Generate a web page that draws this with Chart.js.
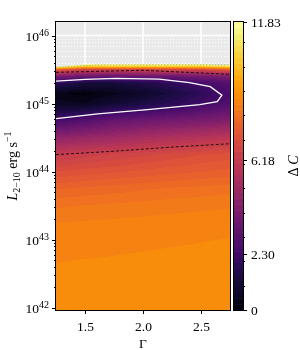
<!DOCTYPE html>
<html>
<head>
<meta charset="utf-8">
<script src="https://cdn.jsdelivr.net/npm/chart.js@4.4.0/dist/chart.umd.min.js"></script>
<style>
  html, body { margin: 0; padding: 0; background: #fff; }
  #wrap { width: 300px; height: 350px; }
</style>
</head>
<body>
<div id="wrap"><canvas id="chart"></canvas></div>
<script>
// grid of the Delta C map: columns in Gamma, rows in log10 L
const gammaGrid = [1.25, 1.5, 1.75, 2.0, 2.25, 2.5, 2.75];
const logLGrid = [41.9, 42.5, 43.0, 43.25, 43.5, 43.75, 44.0, 44.25, 44.5, 44.75, 45.0, 45.15, 45.3, 45.4, 45.5, 45.55, 45.6, 46.3];

const dcG125 = [8.88, 8.74, 8.58, 8.45, 8.17, 7.70, 7.00, 6.18, 4.6, 2.5, 0.6, 0.3, 1.9, 4.0, 7.5, 12.5, 13, null];
const dcG150 = [8.89, 8.76, 8.60, 8.48, 8.22, 7.78, 7.12, 6.40, 4.8, 2.9, 0.5, 0.15, 1.2, 3.5, 6.5, 10.5, 13, null];
const dcG175 = [8.90, 8.77, 8.62, 8.50, 8.26, 7.85, 7.20, 6.55, 5.0, 3.4, 1.0, 0.4, 1.2, 3.4, 6.6, 10.5, 13, null];
const dcG200 = [8.90, 8.79, 8.64, 8.53, 8.30, 7.93, 7.30, 6.70, 5.3, 3.6, 1.4, 0.8, 1.5, 3.5, 6.6, 10.5, 13, null];
const dcG225 = [8.91, 8.80, 8.66, 8.56, 8.35, 8.00, 7.40, 6.85, 5.5, 3.8, 1.8, 1.3, 1.9, 3.6, 6.7, 10.5, 13, null];
const dcG250 = [8.92, 8.81, 8.68, 8.58, 8.38, 8.05, 7.48, 7.00, 5.7, 4.0, 2.25, 1.9, 2.4, 3.8, 6.8, 10.5, 13, null];
const dcG275 = [8.93, 8.82, 8.70, 8.60, 8.42, 8.10, 7.55, 7.10, 5.9, 4.2, 2.8, 2.6, 2.9, 4.1, 7.5, 11.0, 13, null];
const deltaC = [dcG125, dcG150, dcG175, dcG200, dcG225, dcG250, dcG275];

// contour lines (Gamma, log10 L)
const c230Gamma = [1.25, 1.5, 1.77, 2.14, 2.4, 2.58, 2.68, 2.64, 2.49, 2.04, 1.61, 1.25];
const c230LogL  = [45.33, 45.355, 45.37, 45.36, 45.31, 45.25, 45.125, 45.03, 44.985, 44.91, 44.85, 44.78];
const c618LoGamma = [1.25, 1.75, 2.25, 2.75];
const c618LoLogL  = [44.25, 44.30, 44.36, 44.41];
const c618HiGamma = [1.25, 2.0, 2.75];
const c618HiLogL  = [45.46, 45.49, 45.43];
const c1183Gamma = [1.25, 1.6, 2.0, 2.75];
const c1183LogL  = [45.534, 45.57, 45.572, 45.572];

// axes
const xTicks = [1.5, 2.0, 2.5];
const xTickLabels = ['1.5', '2.0', '2.5'];
const yDecades = [42, 43, 44, 45, 46];
const cbTicks = [0, 2.30, 6.18, 11.83];
const cbTickLabels = ['0', '2.30', '6.18', '11.83'];
const cbMinor = [1, 2, 3, 4, 5, 6, 7, 8, 9, 10, 11];

const VMAX = 11.83;
const NLEV = 50;
const STEP = VMAX / (NLEV - 1);
const SERIF = '"Liberation Serif", "DejaVu Serif", serif';
const FS = 13.5;
const FS_SMALL = 10;

const INFERNO = ['#000004', '#0b0724', '#160b39', '#280b54', '#420a68', '#57106e', '#6a176e',
  '#7f1e6c', '#932667', '#a82e5f', '#bc3754', '#cc4248', '#dd513a', '#ea632a', '#f37819',
  '#f98e09', '#fca50a', '#fac127', '#f6d746', '#f2ee73', '#fcffa4'].map(h => [
    parseInt(h.slice(1, 3), 16), parseInt(h.slice(3, 5), 16), parseInt(h.slice(5, 7), 16)]);

function inferno(t) {
  t = Math.max(0, Math.min(1, t)) * (INFERNO.length - 1);
  const i = Math.min(Math.floor(t), INFERNO.length - 2), f = t - i;
  const a = INFERNO[i], b = INFERNO[i + 1];
  return [0, 1, 2].map(k => Math.round(a[k] + (b[k] - a[k]) * f));
}

function bandColor(v) {
  const k = Math.min(Math.floor(v / STEP), NLEV - 2);
  return inferno((k + 0.5) / (NLEV - 1));
}

function seg(arr, v) {
  let i = 0;
  while (i < arr.length - 2 && v > arr[i + 1]) i++;
  return i;
}

function lookup(g, lg) {
  const i = seg(gammaGrid, g), j = seg(logLGrid, lg);
  const a = deltaC[i][j], b = deltaC[i + 1][j], c = deltaC[i][j + 1], d = deltaC[i + 1][j + 1];
  if (a == null || b == null || c == null || d == null) return null;
  const fx = Math.max(0, Math.min(1, (g - gammaGrid[i]) / (gammaGrid[i + 1] - gammaGrid[i])));
  const fy = Math.max(0, Math.min(1, (lg - logLGrid[j]) / (logLGrid[j + 1] - logLGrid[j])));
  return (a * (1 - fx) + b * fx) * (1 - fy) + (c * (1 - fx) + d * fx) * fy;
}

function pts(gs, ls) {
  return gs.map((g, i) => ({ x: g, y: Math.pow(10, ls[i]) }));
}

// draws text pieces (size, italic, shift) one after another
function drawParts(ctx, parts, x, y, align) {
  let total = 0;
  parts.forEach(p => {
    ctx.font = (p.italic ? 'italic ' : '') + p.size + 'px ' + SERIF;
    p.w = ctx.measureText(p.t).width;
    total += p.w;
  });
  let cx = align === 'right' ? x - total : align === 'center' ? x - total / 2 : x;
  ctx.textAlign = 'left';
  ctx.textBaseline = 'alphabetic';
  parts.forEach(p => {
    ctx.font = (p.italic ? 'italic ' : '') + p.size + 'px ' + SERIF;
    ctx.fillText(p.t, cx, y + (p.dy || 0));
    cx += p.w;
  });
}

const mapPlugin = {
  id: 'deltaCMap',
  beforeDatasetsDraw(chart) {
    const { ctx, chartArea: a, scales: { x, y } } = chart;
    ctx.save();
    ctx.fillStyle = '#eaeaea';
    ctx.fillRect(a.left, a.top, a.right - a.left, a.bottom - a.top);

    // grid on the grey background
    ctx.strokeStyle = '#ffffff';
    ctx.lineWidth = 1.5;
    xTicks.forEach(v => {
      const px = x.getPixelForValue(v);
      ctx.beginPath(); ctx.moveTo(px, a.top); ctx.lineTo(px, a.bottom); ctx.stroke();
    });
    yDecades.forEach(d => {
      const py = y.getPixelForValue(Math.pow(10, d));
      ctx.beginPath(); ctx.moveTo(a.left, py); ctx.lineTo(a.right, py); ctx.stroke();
    });
    ctx.lineWidth = 1;
    ctx.setLineDash([1, 2]);
    yDecades.forEach(d => {
      for (let m = 2; m <= 9; m++) {
        const v = m * Math.pow(10, d);
        if (v > y.max) continue;
        const py = Math.round(y.getPixelForValue(v)) + 0.5;
        ctx.beginPath(); ctx.moveTo(a.left, py); ctx.lineTo(a.right, py); ctx.stroke();
      }
    });
    ctx.setLineDash([]);

    // filled Delta C map
    const w = Math.round(a.right - a.left), h = Math.round(a.bottom - a.top);
    const off = document.createElement('canvas');
    off.width = w; off.height = h;
    const octx = off.getContext('2d');
    const img = octx.createImageData(w, h);
    for (let py = 0; py < h; py++) {
      const lg = Math.log10(y.getValueForPixel(a.top + py + 0.5));
      for (let px = 0; px < w; px++) {
        const g = x.getValueForPixel(a.left + px + 0.5);
        const v = lookup(g, lg);
        if (v == null || v > VMAX) continue;
        const c = bandColor(Math.max(0, v));
        const o = (py * w + px) * 4;
        img.data[o] = c[0]; img.data[o + 1] = c[1]; img.data[o + 2] = c[2]; img.data[o + 3] = 255;
      }
    }
    octx.putImageData(img, 0, 0);
    ctx.drawImage(off, a.left, a.top);
    ctx.restore();
  },
  afterDatasetsDraw(chart) {
    const { ctx, chartArea: a, scales: { x, y, cb } } = chart;
    ctx.save();
    ctx.strokeStyle = '#000';
    ctx.fillStyle = '#000';
    ctx.lineWidth = 1;
    ctx.strokeRect(a.left - 0.5, a.top - 0.5, a.right - a.left + 1, a.bottom - a.top + 1);

    // x ticks
    xTicks.forEach((v, i) => {
      const px = Math.round(x.getPixelForValue(v)) + 0.5;
      ctx.beginPath(); ctx.moveTo(px, a.bottom); ctx.lineTo(px, a.bottom + 4); ctx.stroke();
      drawParts(ctx, [{ t: xTickLabels[i], size: FS }], px, a.bottom + 21, 'center');
    });
    drawParts(ctx, [{ t: 'Γ', size: FS }], (a.left + a.right) / 2, 348, 'center');

    // y ticks (log)
    yDecades.forEach(d => {
      const py = Math.round(y.getPixelForValue(Math.pow(10, d))) + 0.5;
      ctx.beginPath(); ctx.moveTo(a.left, py); ctx.lineTo(a.left - 4, py); ctx.stroke();
      drawParts(ctx, [{ t: '10', size: FS }, { t: String(d), size: FS_SMALL, dy: -5.5 }], a.left - 7, py + 4.5, 'right');
      for (let m = 2; m <= 9; m++) {
        const v = m * Math.pow(10, d);
        if (v > y.max) continue;
        const pm = Math.round(y.getPixelForValue(v)) + 0.5;
        ctx.beginPath(); ctx.moveTo(a.left, pm); ctx.lineTo(a.left - 2, pm); ctx.stroke();
      }
    });

    // y title
    ctx.save();
    ctx.translate(17, (a.top + a.bottom) / 2);
    ctx.rotate(-Math.PI / 2);
    drawParts(ctx, [
      { t: 'L', size: 14, italic: true },
      { t: '2−10', size: FS_SMALL, dy: 3 },
      { t: ' erg s', size: 14 },
      { t: '−1', size: FS_SMALL, dy: -6 }
    ], 0, 0, 'center');
    ctx.restore();

    // colorbar
    const cx0 = a.right + 4, cx1 = a.right + 13;
    for (let k = 0; k < NLEV - 1; k++) {
      const c = bandColor((k + 0.5) * STEP);
      const y0 = cb.getPixelForValue(k * STEP), y1 = cb.getPixelForValue((k + 1) * STEP);
      ctx.fillStyle = `rgb(${c[0]},${c[1]},${c[2]})`;
      ctx.fillRect(cx0, y1, cx1 - cx0, y0 - y1 + 0.6);
    }
    ctx.fillStyle = '#000';
    ctx.strokeRect(cx0 - 0.5, a.top - 0.5, cx1 - cx0 + 1, a.bottom - a.top + 1);
    cbMinor.forEach(v => {
      const py = Math.round(cb.getPixelForValue(v)) + 0.5;
      ctx.beginPath(); ctx.moveTo(cx1, py); ctx.lineTo(cx1 + 2, py); ctx.stroke();
    });
    cbTicks.forEach((v, i) => {
      const py = Math.round(cb.getPixelForValue(v)) + 0.5;
      ctx.beginPath(); ctx.moveTo(cx1, py); ctx.lineTo(cx1 + 4, py); ctx.stroke();
      drawParts(ctx, [{ t: cbTickLabels[i], size: FS }], cx1 + 8, py + 4.5, 'left');
    });
    ctx.save();
    ctx.translate(298, (a.top + a.bottom) / 2);
    ctx.rotate(-Math.PI / 2);
    drawParts(ctx, [{ t: 'Δ', size: 14 }, { t: '\u2009C', size: 14, italic: true }], 0, 0, 'center');
    ctx.restore();
    ctx.restore();
  }
};

new Chart(document.getElementById('chart'), {
  type: 'line',
  data: {
    datasets: [
      {
        label: 'ΔC = 2.30',
        data: pts(c230Gamma, c230LogL),
        borderColor: '#ffffff',
        borderWidth: 1.3,
        pointRadius: 0
      },
      {
        label: 'ΔC = 6.18 (low)',
        data: pts(c618LoGamma, c618LoLogL),
        borderColor: '#000000',
        borderWidth: 0.8,
        borderDash: [3, 2],
        pointRadius: 0
      },
      {
        label: 'ΔC = 6.18 (high)',
        data: pts(c618HiGamma, c618HiLogL),
        borderColor: '#000000',
        borderWidth: 0.8,
        borderDash: [3, 2],
        pointRadius: 0
      },
      {
        label: 'ΔC = 11.83',
        data: pts(c1183Gamma, c1183LogL),
        borderColor: '#a9ab5c',
        borderWidth: 0.8,
        borderDash: [1.5, 1.5],
        pointRadius: 0
      }
    ]
  },
  options: {
    responsive: true,
    maintainAspectRatio: false,
    animation: false,
    devicePixelRatio: 1,
    layout: { padding: { left: 56, right: 70, top: 22, bottom: 40 } },
    plugins: { legend: { display: false }, tooltip: { enabled: false } },
    scales: {
      x: { type: 'linear', min: 1.25, max: 2.75, display: false },
      y: { type: 'logarithmic', min: Math.pow(10, 41.965), max: Math.pow(10, 46.2), display: false },
      cb: { type: 'linear', axis: 'y', position: 'right', min: 0, max: VMAX, display: false }
    }
  },
  plugins: [mapPlugin]
});
</script>
</body>
</html>
